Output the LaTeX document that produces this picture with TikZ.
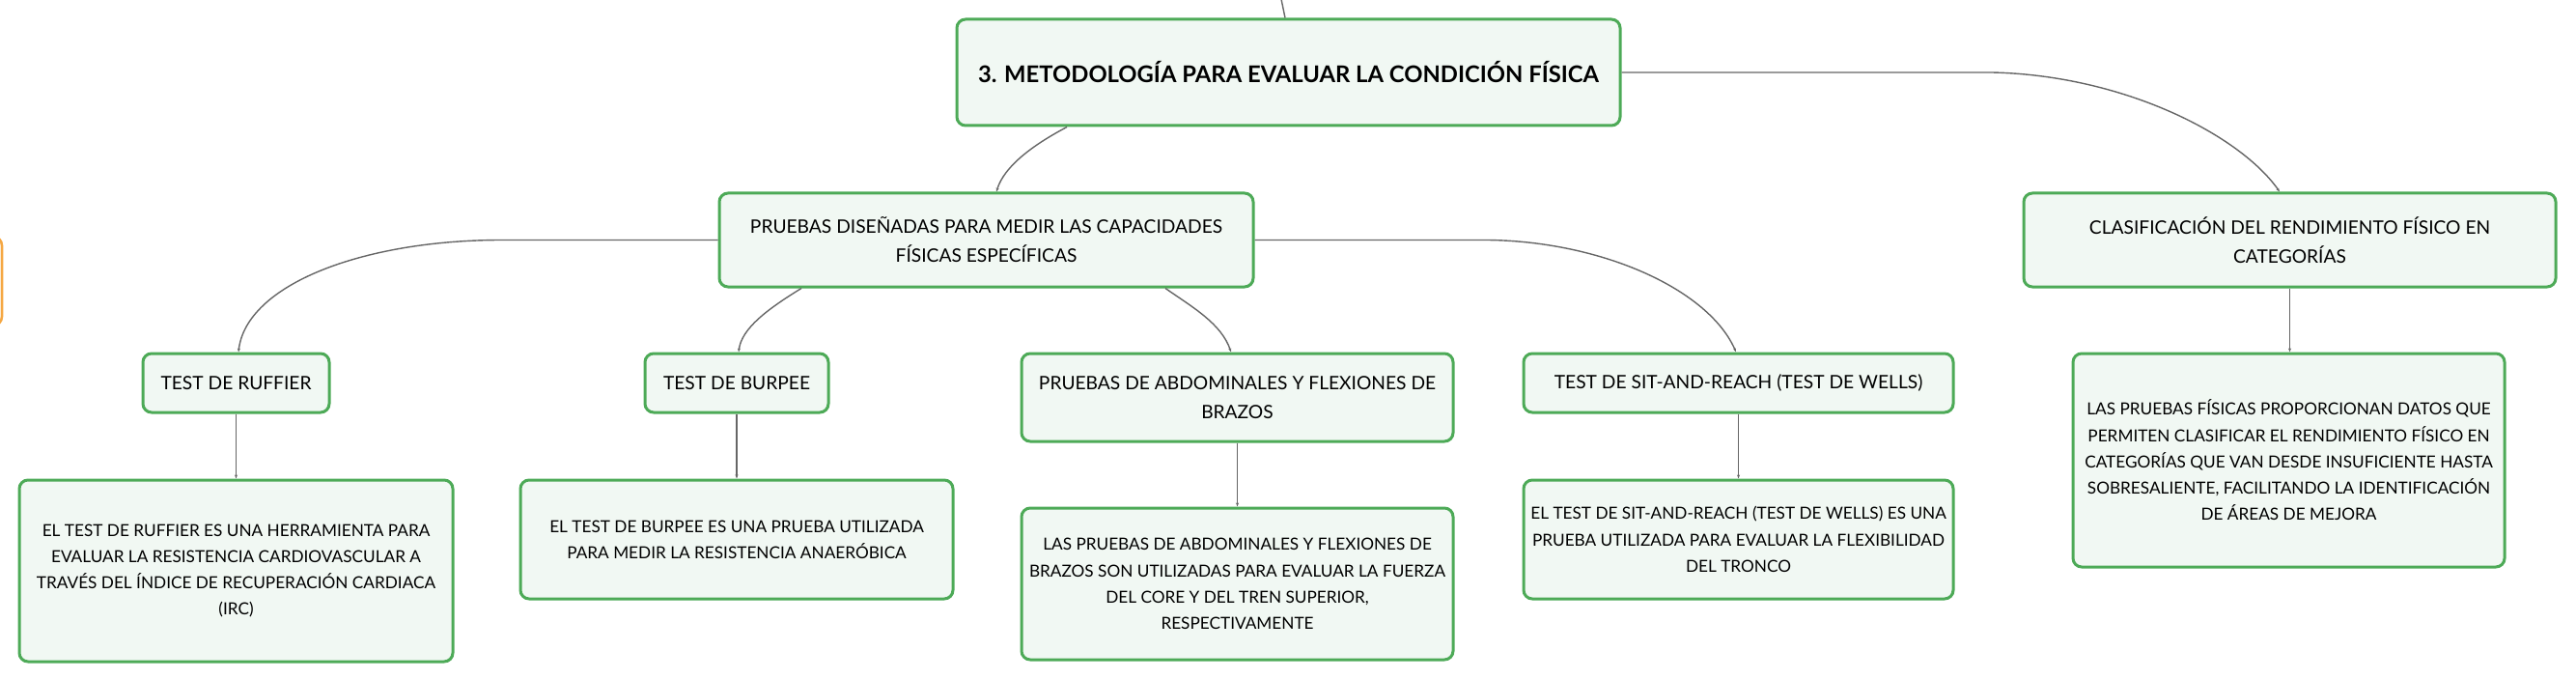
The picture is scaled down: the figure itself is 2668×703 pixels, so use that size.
\documentclass[tikz,border=0pt]{standalone}
\usepackage{fontspec}
\setmainfont{Lato}
\usepackage{tikz}
\usetikzlibrary{arrows.meta}
\definecolor{verde}{HTML}{4DAA57}
\definecolor{fondo}{HTML}{F1F8F3}
\definecolor{naranja}{HTML}{F5A742}
\definecolor{fondonar}{HTML}{FDF3E6}
\definecolor{gris}{HTML}{666666}
\tikzset{
  caja/.style={draw=verde, fill=fondo, line width=3pt, rounded corners=9pt, align=center, inner sep=0pt},
  tema/.style={caja, font=\fontsize{19.2}{30}\selectfont},
  detalle/.style={caja, font=\fontsize{17.2}{27.3}\selectfont},
  enlace/.style={draw=gris, line width=1.4pt, -{Stealth[length=4pt,width=3pt]}}
}

\begin{document}
\begin{tikzpicture}[x=1pt,y=-1pt]
\useasboundingbox (0,0) rectangle (2668,703);
\clip (0,0) rectangle (2668,703);
% nodos
\node[caja, minimum width=687pt, minimum height=110pt, font=\bfseries\fontsize{23.8}{28}\selectfont] (raiz) at (1334.5,75) {3. METODOLOGÍA PARA EVALUAR LA CONDICIÓN FÍSICA};
\node[draw=naranja, fill=fondonar, line width=2.5pt, rounded corners=9pt, minimum width=200pt, minimum height=92pt] (previo) at (-98,291) {};
\node[tema, minimum width=553pt, minimum height=97pt] (pruebas) at (1021.5,248.5) {PRUEBAS DISEÑADAS PARA MEDIR LAS CAPACIDADES\\FÍSICAS ESPECÍFICAS};
\node[tema, minimum width=551pt, minimum height=97pt] (clasif) at (2371.5,248.5) {CLASIFICACIÓN DEL RENDIMIENTO FÍSICO EN\\CATEGORÍAS};
\node[tema, minimum width=193pt, minimum height=61pt] (ruffier) at (244.5,396.5) {TEST DE RUFFIER};
\node[tema, minimum width=190pt, minimum height=61pt] (burpee) at (763,396.5) {TEST DE BURPEE};
\node[tema, minimum width=447pt, minimum height=91pt] (abdom) at (1281.5,411.5) {PRUEBAS DE ABDOMINALES Y FLEXIONES DE\\BRAZOS};
\node[tema, minimum width=445pt, minimum height=61pt] (sit) at (1800.5,396.5) {TEST DE SIT-AND-REACH (TEST DE WELLS)};
\node[detalle, minimum width=449pt, minimum height=188pt] (ruffierdesc) at (244.5,591) {EL TEST DE RUFFIER ES UNA HERRAMIENTA PARA\\EVALUAR LA RESISTENCIA CARDIOVASCULAR A\\TRAVÉS DEL ÍNDICE DE RECUPERACIÓN CARDIACA\\(IRC)};
\node[detalle, minimum width=448pt, minimum height=123pt] (burpeedesc) at (763,558.5) {EL TEST DE BURPEE ES UNA PRUEBA UTILIZADA\\PARA MEDIR LA RESISTENCIA ANAERÓBICA};
\node[detalle, minimum width=447pt, minimum height=157pt] (abdomdesc) at (1281.5,604.5) {LAS PRUEBAS DE ABDOMINALES Y FLEXIONES DE\\BRAZOS SON UTILIZADAS PARA EVALUAR LA FUERZA\\DEL CORE Y DEL TREN SUPERIOR,\\RESPECTIVAMENTE};
\node[detalle, minimum width=445pt, minimum height=123pt] (sitdesc) at (1800.5,558.5) {EL TEST DE SIT-AND-REACH (TEST DE WELLS) ES UNA\\PRUEBA UTILIZADA PARA EVALUAR LA FLEXIBILIDAD\\DEL TRONCO};
\node[detalle, minimum width=447pt, minimum height=221pt] (clasifdesc) at (2370.5,476.5) {LAS PRUEBAS FÍSICAS PROPORCIONAN DATOS QUE\\PERMITEN CLASIFICAR EL RENDIMIENTO FÍSICO EN\\CATEGORÍAS QUE VAN DESDE INSUFICIENTE HASTA\\SOBRESALIENTE, FACILITANDO LA IDENTIFICACIÓN\\DE ÁREAS DE MEJORA};
\coordinate (arriba) at (1321,-30);
% enlaces
\draw[draw=gris, line width=1.4pt] (arriba) -- ([xshift=-3.5pt]raiz.north);
\draw[enlace] ([xshift=-229.5pt]raiz.south) .. controls (1070,150) and (1040,172) .. ([xshift=10.5pt]pruebas.north);
\draw[enlace] (raiz.east) -- (2063,75) .. controls (2200,78) and (2320,140) .. ([xshift=-10.5pt]clasif.north);
\draw[enlace] (pruebas.west) -- (520,248.5) .. controls (375,248.5) and (255,295) .. ([xshift=2.5pt]ruffier.north);
\draw[enlace] ([xshift=-191.5pt]pruebas.south) .. controls (795,320) and (768,340) .. ([xshift=2pt]burpee.north);
\draw[enlace] ([xshift=185.5pt]pruebas.south) .. controls (1235,318) and (1265,335) .. ([xshift=-6.5pt]abdom.north);
\draw[enlace] (pruebas.east) -- (1541,248.5) .. controls (1660,250) and (1770,300) .. ([xshift=-2.5pt]sit.north);
\draw[enlace] (ruffier) -- (ruffierdesc);
\draw[enlace] (burpee) -- (burpeedesc);
\draw[enlace] (abdom) -- (abdomdesc);
\draw[enlace] (sit) -- (sitdesc);
\draw[enlace] (clasif.south) -- (clasif.south |- clasifdesc.north);
\end{tikzpicture}
\end{document}
